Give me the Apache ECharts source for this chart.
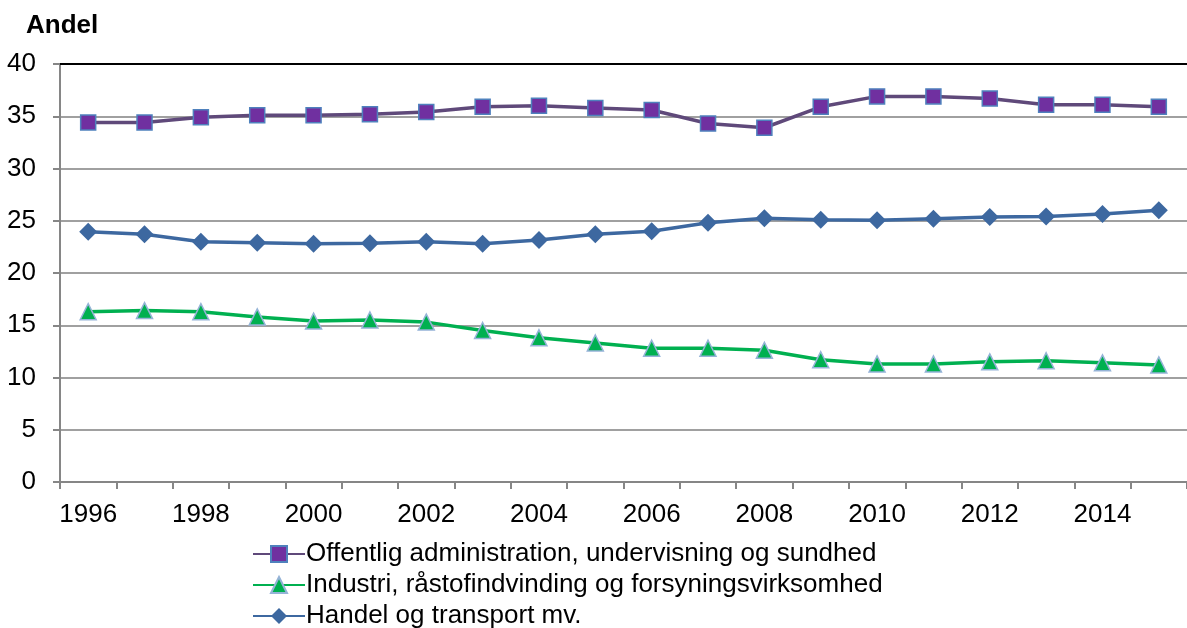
<!DOCTYPE html>
<html>
<head>
<meta charset="utf-8">
<script src="https://cdn.jsdelivr.net/npm/echarts@6/dist/echarts.min.js"></script>
<style>html,body{margin:0;padding:0;background:#fff}#c{width:1187px;height:628px}</style>
</head>
<body>
<div id="c"></div>
<script>
const years = ['1996','1997','1998','1999','2000','2001','2002','2003','2004','2005','2006','2007','2008','2009','2010','2011','2012','2013','2014','2015'];
const offentlig = [34.4,34.4,34.9,35.1,35.1,35.2,35.4,35.9,36.0,35.8,35.6,34.3,33.9,35.9,36.9,36.9,36.7,36.1,36.1,35.9];
const industri = [16.3,16.4,16.3,15.8,15.4,15.5,15.3,14.5,13.8,13.3,12.8,12.8,12.6,11.7,11.3,11.3,11.5,11.6,11.4,11.2];
const handel = [23.95,23.7,23.0,22.9,22.8,22.85,23.0,22.8,23.15,23.7,24.0,24.8,25.25,25.1,25.05,25.2,25.35,25.4,25.65,26.0];
const seriesNames = ['Offentlig administration, undervisning og sundhed','Industri, råstofindvinding og forsyningsvirksomhed','Handel og transport mv.'];
const yTicks = {min:0, max:40, interval:5};

const font = 'Liberation Sans, Arial, sans-serif';
const legendTops = [541, 572, 603];
const legends = seriesNames.map((n, i) => ({
  orient:'horizontal', left:252, top:legendTops[i], padding:0,
  itemWidth:52, itemHeight:20, itemGap:0,
  textStyle:{fontFamily:font, fontSize:26, color:'#000', lineHeight:24, padding:[0,0,0,-4]},
  data:[n]
}));
const chart = echarts.init(document.getElementById('c'), null, {renderer:'canvas'});
chart.setOption({
  animation:false,
  backgroundColor:'#fff',
  textStyle:{fontFamily:font},
  title:{text:'Andel', left:26, top:13, padding:0, textStyle:{fontFamily:font, fontSize:26, fontWeight:'bold', color:'#000'}},
  grid:{left:60, top:64, width:1137, bottom:146, containLabel:false},
  legend:legends,
  xAxis:[{
    type:'category', data:years, boundaryGap:true,
    axisLine:{lineStyle:{color:'#868686', width:2}},
    axisTick:{show:true, length:7, interval:0, lineStyle:{color:'#868686', width:2}},
    axisLabel:{interval:1, margin:20, fontSize:26, color:'#000', fontFamily:font},
    splitLine:{show:false}
  },{
    type:'category', data:years, position:'top',
    axisLine:{show:true, lineStyle:{color:'#000', width:2}},
    axisTick:{show:false}, axisLabel:{show:false}, splitLine:{show:false}
  }],
  yAxis:{
    type:'value', min:yTicks.min, max:yTicks.max, interval:yTicks.interval,
    axisLine:{show:true, lineStyle:{color:'#868686', width:2}},
    axisTick:{show:true, length:7, lineStyle:{color:'#868686', width:2}},
    axisLabel:{margin:24, fontSize:26, color:'#000', fontFamily:font},
    splitLine:{lineStyle:{color:'#A0A0A0', width:2}}
  },
  series:[
    {name:seriesNames[0], type:'line', data:offentlig, symbol:'rect', symbolSize:15,
     lineStyle:{color:'#5F497A', width:3.5}, itemStyle:{color:'#7030A0', borderColor:'#4F81BD', borderWidth:1.5}},
    {name:seriesNames[1], type:'line', data:industri, symbol:'triangle', symbolSize:16,
     lineStyle:{color:'#00B050', width:3.5}, itemStyle:{color:'#00B050', borderColor:'#95B3D7', borderWidth:1.5}},
    {name:seriesNames[2], type:'line', data:handel, symbol:'diamond', symbolSize:18,
     lineStyle:{color:'#3D68A0', width:3.5}, itemStyle:{color:'#3D68A0', borderColor:'#3D68A0', borderWidth:0}}
  ]
});
</script>
</body>
</html>
